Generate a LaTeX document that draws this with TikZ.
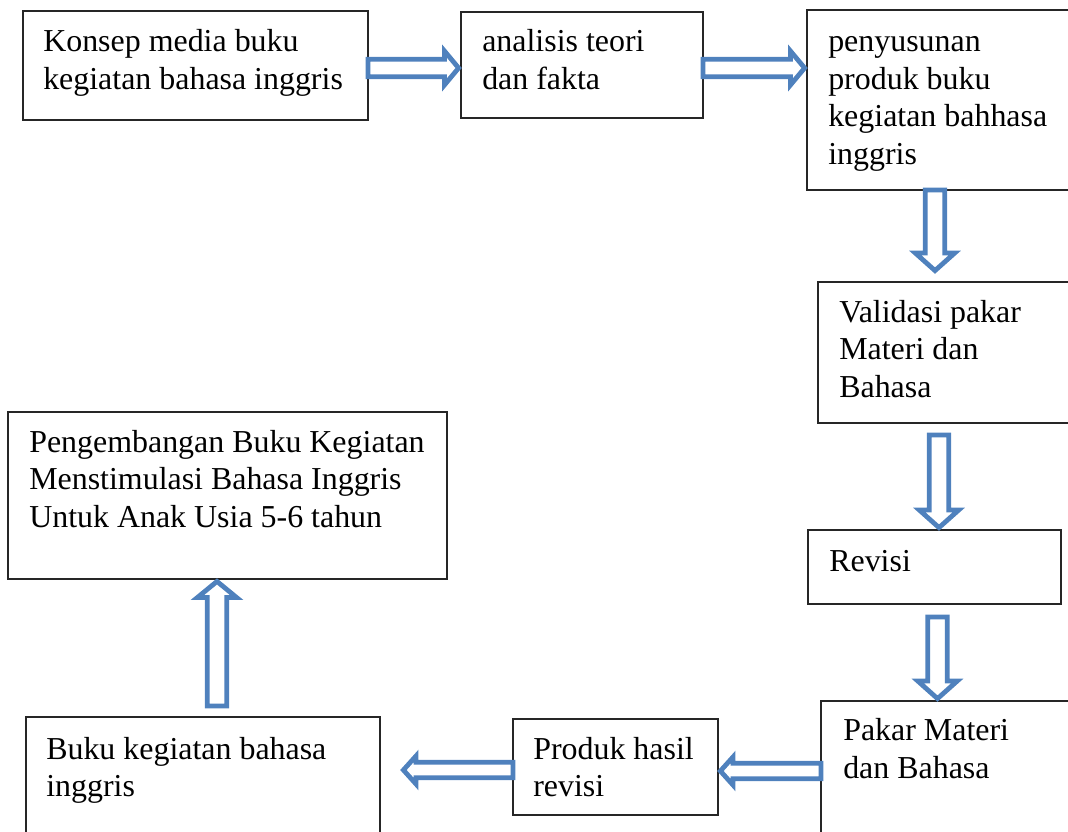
\documentclass[tikz,border=0pt]{standalone}
\usepackage{fontspec}
\setmainfont{Liberation Serif}
\usetikzlibrary{calc,fit}
\definecolor{arrowblue}{RGB}{79,129,189}
\tikzset{
  box/.style={draw=black!85, line width=0.9pt, inner sep=0pt, outer sep=0pt},
  txt/.style={anchor=north west, inner sep=0pt, align=left, font=\fontsize{22.7}{26.7}\selectfont},
  blockarrow/.style n args={3}{draw=arrowblue, fill=white, line width=3.4pt, line join=miter,
    to path={let \p1=(\tikztostart), \p2=(\tikztotarget),
      \n1={atan2((\y2)-(\y1),(\x2)-(\x1))}, \n2={veclen((\x2)-(\x1),(\y2)-(\y1))-1.7pt} in
      {[shift={(\p1)}, rotate=\n1]
        (0pt,-#1) -- ({(\n2)*1pt-#3},-#1) -- ({(\n2)*1pt-#3},-#2) -- ({(\n2)*1pt},0pt)
        -- ({(\n2)*1pt-#3},#2) -- ({(\n2)*1pt-#3},#1) -- (0pt,#1) -- cycle}}}
}
\begin{document}
\begin{tikzpicture}[x=0.025cm,y=-0.025cm]
  \useasboundingbox (0,0) rectangle (1068,831);
  \clip (0,0) rectangle (1068,831);
%%% top row
  \node[box, fit={(23,11) (368,120)}] (konsep) {};
  \node[txt] (konseptxt) at (43,25.2) {\strut Konsep media buku\\kegiatan bahasa inggris};
  \node[box, fit={(461,12) (703,118)}] (analisis) {};
  \node[txt] (analisistxt) at (482,25.2) {\strut analisis teori\\dan fakta};
  \node[box, fit={(807,10) (1090,190)}] (penyusunan) {};
  \node[txt] (penyusunantxt) at (828,25.2) {\strut penyusunan\\produk buku\\kegiatan bahhasa\\inggris};
%%% right column
  \node[box, fit={(818,282) (1090,423)}] (validasi) {};
  \node[txt] (validasitxt) at (839,295.7) {\strut Validasi pakar\\Materi dan\\Bahasa};
  \node[box, fit={(808,530) (1061,604)}] (revisi) {};
  \node[txt] (revisitxt) at (829,544.7) {\strut Revisi};
  \node[box, fit={(821,701) (1090,860)}] (pakar) {};
  \node[txt] (pakartxt) at (843,714.2) {\strut Pakar Materi\\dan Bahasa};
%%% bottom row
  \node[box, fit={(513,719) (718,815)}] (produk) {};
  \node[txt] (produktxt) at (533,732.7) {\strut Produk hasil\\revisi};
  \node[box, fit={(26,717) (380,860)}] (buku) {};
  \node[txt] (bukutxt) at (46,732.7) {\strut Buku kegiatan bahasa\\inggris};
  \node[box, fit={(8,412) (447,579)}] (pengembangan) {};
  \node[txt] (pengembangantxt) at (29,425.7) {\strut Pengembangan Buku Kegiatan\\Menstimulasi Bahasa Inggris\\Untuk Anak Usia 5-6 tahun};
%%% arrows
  \draw[blockarrow={6.2pt}{12pt}{10pt}] (konsep.east |- 0,68) to (analisis.west |- 0,68);
  \draw[blockarrow={6.2pt}{12pt}{10pt}] (analisis.east |- 0,68) to (penyusunan.west |- 0,68);
  \draw[blockarrow={7pt}{14pt}{12.5pt}] (penyusunan.south -| 935,0) to ($(validasi.north -| 935,0)+(0,-9)$);
  \draw[blockarrow={7pt}{14pt}{12.5pt}] ($(validasi.south -| 939,0)+(0,12)$) to (revisi.north -| 939,0);
  \draw[blockarrow={7pt}{14pt}{12.5pt}] ($(revisi.south -| 937.5,0)+(0,13)$) to (pakar.north -| 937.5,0);
  \draw[blockarrow={5.5pt}{10pt}{9pt}] (pakar.west |- 0,771) to (produk.east |- 0,771);
  \draw[blockarrow={5.5pt}{10pt}{9pt}] (produk.west |- 0,770) to ($(buku.east |- 0,770)+(21,0)$);
  \draw[blockarrow={7pt}{14pt}{11.5pt}] ($(buku.north -| 217,0)+(0,-11)$) to (pengembangan.south -| 217,0);
%%%
\end{tikzpicture}
\end{document}
